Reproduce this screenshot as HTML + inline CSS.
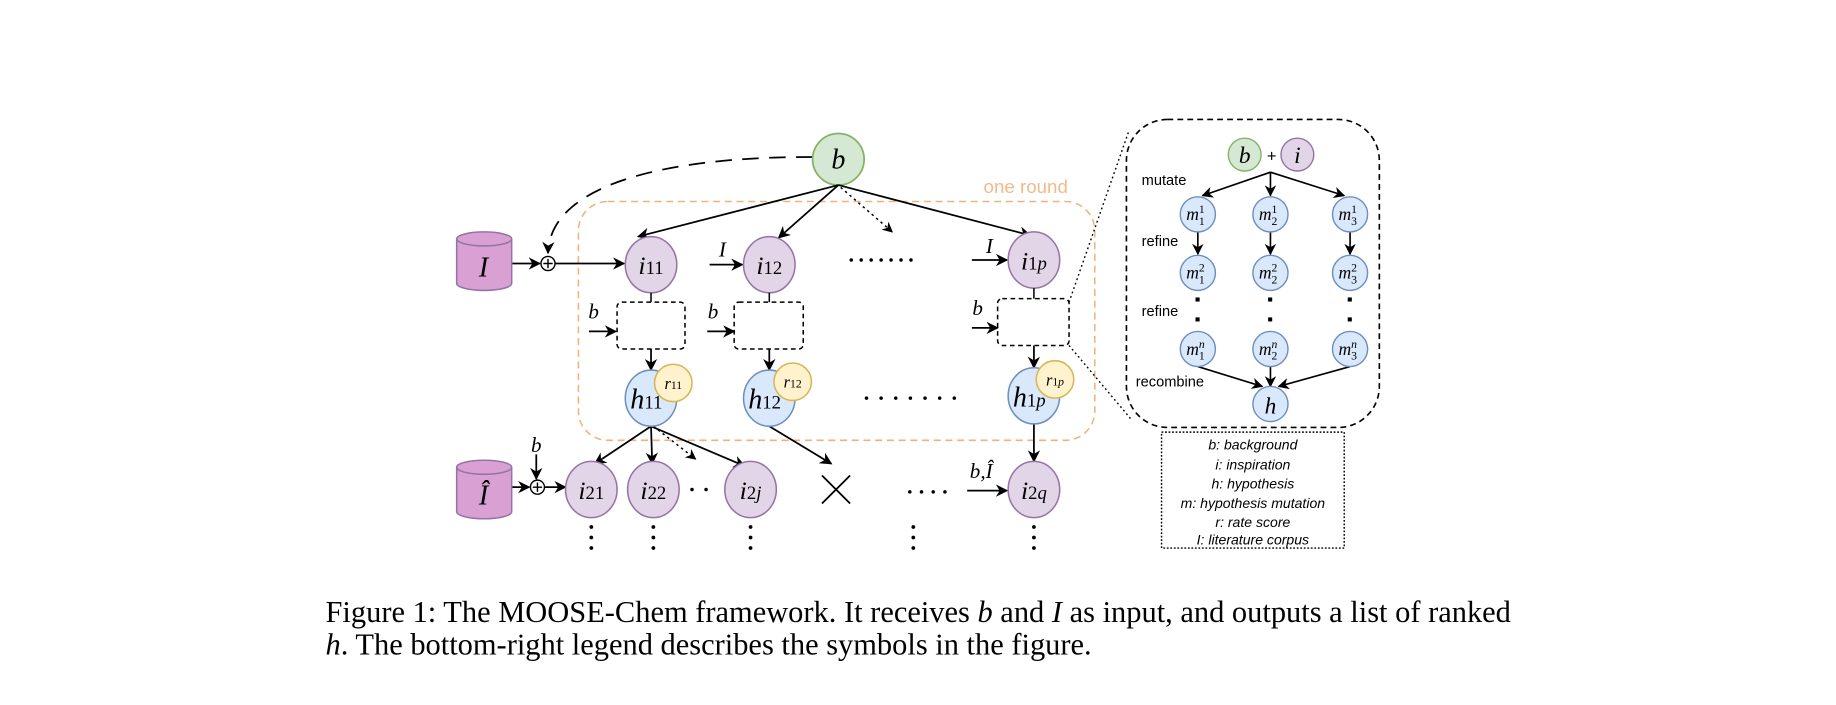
<!DOCTYPE html>
<html><head><meta charset="utf-8"><style>html,body{margin:0;padding:0;background:#fff}svg{display:block}</style></head>
<body>
<svg width="1836" height="705" viewBox="0 0 1568 602" xmlns="http://www.w3.org/2000/svg">
<defs>
<marker id="a" viewBox="0 0 10 10" refX="9" refY="5" markerWidth="7" markerHeight="7" orient="auto"><path d="M0,0 L10,5 L0,10 L3,5z" fill="#000"/></marker>
</defs>
<g font-family="Liberation Serif, serif" font-style="italic" text-anchor="middle">
<rect x="494" y="172" width="441" height="204" rx="25" fill="none" stroke="#f0b27a" stroke-width="1.3" stroke-dasharray="6,4"/>
<text x="876" y="165" font-family="Liberation Sans, sans-serif" font-style="normal" font-size="16" fill="#f2b98a">one round</text>
<path d="M694,134 C560,134 470,160 468,216" fill="none" stroke="#000" stroke-width="1.5" stroke-dasharray="14,9" marker-end="url(#a)"/>
<circle cx="716" cy="136" r="22" fill="#d5e8d4" stroke="#82b366" stroke-width="1.5"/>
<text x="716" y="144" font-size="24">b</text>
<g stroke="#000" stroke-width="1.5" fill="none" marker-end="url(#a)">
<line x1="716" y1="158" x2="545" y2="202"/>
<line x1="716" y1="158" x2="665" y2="203"/>
<line x1="716" y1="158" x2="880" y2="201"/>
<line x1="437" y1="225" x2="461" y2="225"/>
<line x1="474" y1="225" x2="533" y2="225"/>
<line x1="606" y1="226" x2="634" y2="226"/>
<line x1="830" y1="222" x2="860" y2="222"/>
<line x1="503" y1="283" x2="526" y2="283"/>
<line x1="604" y1="283" x2="627" y2="283"/>
<line x1="830" y1="280" x2="852" y2="280"/>
<line x1="556" y1="298" x2="556" y2="316"/>
<line x1="657" y1="298" x2="657" y2="316"/>
<line x1="883" y1="295" x2="883" y2="314"/>
<line x1="556" y1="364" x2="508" y2="396"/>
<line x1="556" y1="364" x2="557" y2="396"/>
<line x1="556" y1="364" x2="636" y2="398"/>
<line x1="657" y1="364" x2="710" y2="396"/>
<line x1="883" y1="362" x2="883" y2="394"/>
<line x1="437" y1="416" x2="452" y2="416"/>
<line x1="465" y1="416" x2="483" y2="416"/>
<line x1="458" y1="388" x2="458" y2="409"/>
<line x1="826" y1="419" x2="860" y2="419"/>
</g>
<g stroke="#000" stroke-width="1.3" fill="none" stroke-dasharray="2,3" marker-end="url(#a)">
<line x1="718" y1="160" x2="762" y2="198"/>
<line x1="558" y1="364" x2="594" y2="392"/>
</g>
<g fill="#d9a0d3" stroke="#9673a6" stroke-width="1.3">
<path d="M390,204 L390,242 A23.5,6 0 0 0 437,242 L437,204"/>
<ellipse cx="413.5" cy="204" rx="23.5" ry="6"/>
<path d="M390,399 L390,437 A23.5,6 0 0 0 437,437 L437,399"/>
<ellipse cx="413.5" cy="399" rx="23.5" ry="6"/>
</g>
<text x="413" y="236" font-size="24">I</text>
<text x="413" y="431" font-size="24">Î</text>
<g stroke="#000" stroke-width="1.2" fill="#fff">
<circle cx="468" cy="225" r="6"/><path d="M464,225h8M468,221v8"/>
<circle cx="459" cy="416" r="6"/><path d="M455,416h8M459,412v8"/>
</g>
<g fill="#e1d5e7" stroke="#9673a6" stroke-width="1.3">
<ellipse cx="556" cy="226" rx="22" ry="24"/>
<ellipse cx="657" cy="226" rx="22" ry="24"/>
<ellipse cx="883" cy="222" rx="22" ry="24"/>
<ellipse cx="505" cy="418" rx="22" ry="24"/>
<ellipse cx="558" cy="418" rx="22" ry="24"/>
<ellipse cx="641" cy="418" rx="22" ry="24"/>
<ellipse cx="883" cy="418" rx="22" ry="24"/>
</g>
<g font-size="22">
<text x="556" y="234">i<tspan font-style="normal" font-size="16">11</tspan></text>
<text x="657" y="234">i<tspan font-style="normal" font-size="16">12</tspan></text>
<text x="883" y="230">i<tspan font-style="normal" font-size="16">1</tspan><tspan font-size="16">p</tspan></text>
<text x="505" y="426">i<tspan font-style="normal" font-size="16">21</tspan></text>
<text x="558" y="426">i<tspan font-style="normal" font-size="16">22</tspan></text>
<text x="641" y="426">i<tspan font-style="normal" font-size="16">2</tspan><tspan font-size="16">j</tspan></text>
<text x="883" y="426">i<tspan font-style="normal" font-size="16">2</tspan><tspan font-size="16">q</tspan></text>
</g>
<g font-size="18">
<text x="617" y="219">I</text><text x="845" y="216">I</text>
<text x="507" y="272">b</text><text x="609" y="272">b</text><text x="835" y="269">b</text>
<text x="458" y="386">b</text>
<text x="838" y="408">b,Î</text>
</g>
<g fill="none" stroke="#000" stroke-width="1.3">
<line x1="556" y1="250" x2="556" y2="258"/><line x1="657" y1="250" x2="657" y2="258"/><line x1="883" y1="246" x2="883" y2="255"/>
<g stroke-dasharray="4,3">
<rect x="527" y="258" width="58" height="40" rx="4"/>
<rect x="627" y="258" width="59" height="40" rx="4"/>
<rect x="852" y="255" width="61" height="40" rx="4"/>
</g>
</g>
<g fill="#dae8fc" stroke="#6c8ebf" stroke-width="1.3">
<ellipse cx="556" cy="340" rx="22" ry="24"/>
<ellipse cx="657" cy="340" rx="22" ry="24"/>
<ellipse cx="883" cy="338" rx="22" ry="24"/>
</g>
<g font-size="24">
<text x="552" y="349">h<tspan font-style="normal" font-size="16">11</tspan></text>
<text x="653" y="349">h<tspan font-style="normal" font-size="16">12</tspan></text>
<text x="879" y="347">h<tspan font-style="normal" font-size="16">1</tspan><tspan font-size="16">p</tspan></text>
</g>
<g fill="#fff2cc" stroke="#d6b656" stroke-width="1.3">
<circle cx="575" cy="327" r="16"/><circle cx="677" cy="326" r="16"/><circle cx="901" cy="324" r="16"/>
</g>
<g font-size="14">
<text x="575" y="332">r<tspan font-style="normal" font-size="10">11</tspan></text>
<text x="677" y="331">r<tspan font-style="normal" font-size="10">12</tspan></text>
<text x="901" y="329">r<tspan font-style="normal" font-size="10">1</tspan><tspan font-size="10">p</tspan></text>
</g>
<path d="M702,406 L726,430 M726,406 L702,430" stroke="#000" stroke-width="1.5"/>
<g fill="#000">
<g transform="translate(727,222)"><circle cx="0" r="1.5"/><circle cx="8.5" r="1.5"/><circle cx="17" r="1.5"/><circle cx="25.5" r="1.5"/><circle cx="34" r="1.5"/><circle cx="42.5" r="1.5"/><circle cx="51" r="1.5"/></g>
<g transform="translate(740,340)"><circle cx="0" r="1.5"/><circle cx="12.5" r="1.5"/><circle cx="25" r="1.5"/><circle cx="37.5" r="1.5"/><circle cx="50" r="1.5"/><circle cx="62.5" r="1.5"/><circle cx="75" r="1.5"/></g>
<g transform="translate(777,420)"><circle cx="0" r="1.5"/><circle cx="10" r="1.5"/><circle cx="20" r="1.5"/><circle cx="30" r="1.5"/></g>
<circle cx="591" cy="418" r="1.5"/><circle cx="603" cy="418" r="1.5"/>
<circle cx="505" cy="450" r="1.6"/><circle cx="505" cy="459" r="1.6"/><circle cx="505" cy="468" r="1.6"/>
<circle cx="558" cy="450" r="1.6"/><circle cx="558" cy="459" r="1.6"/><circle cx="558" cy="468" r="1.6"/>
<circle cx="641" cy="450" r="1.6"/><circle cx="641" cy="459" r="1.6"/><circle cx="641" cy="468" r="1.6"/>
<circle cx="780" cy="450" r="1.6"/><circle cx="780" cy="459" r="1.6"/><circle cx="780" cy="468" r="1.6"/>
<circle cx="883" cy="450" r="1.6"/><circle cx="883" cy="459" r="1.6"/><circle cx="883" cy="468" r="1.6"/>
</g>
<g fill="none" stroke="#000" stroke-width="1.2">
<path d="M913,258 L964,112 M913,295 L966,358" stroke-dasharray="1.5,2.5"/>
<rect x="962" y="102" width="216" height="263" rx="35" stroke-dasharray="5,3.5" stroke-width="1.4"/>
<rect x="992" y="369" width="156" height="99" stroke-dasharray="1.5,1.5"/>
</g>
<circle cx="1063" cy="132" r="14" fill="#d5e8d4" stroke="#82b366" stroke-width="1.2"/>
<circle cx="1108" cy="132" r="14" fill="#e1d5e7" stroke="#9673a6" stroke-width="1.2"/>
<text x="1063" y="139" font-size="20">b</text><text x="1108" y="139" font-size="20">i</text>
<text x="1086" y="138" font-size="14" font-style="normal" font-family="Liberation Sans, sans-serif">+</text>
<g stroke="#000" stroke-width="1.4" fill="none" marker-end="url(#a)">
<line x1="1085" y1="147" x2="1027" y2="167"/><line x1="1085" y1="147" x2="1085" y2="167"/><line x1="1085" y1="147" x2="1148" y2="167"/>
<line x1="1023" y1="198" x2="1023" y2="217"/><line x1="1085" y1="198" x2="1085" y2="217"/><line x1="1153" y1="198" x2="1153" y2="217"/>
<line x1="1023" y1="313" x2="1078" y2="330"/><line x1="1085" y1="313" x2="1085" y2="330"/><line x1="1153" y1="313" x2="1092" y2="330"/>
</g>
<g fill="#dae8fc" stroke="#6c8ebf" stroke-width="1.2">
<circle cx="1023" cy="183" r="15"/><circle cx="1085" cy="183" r="15"/><circle cx="1153" cy="183" r="15"/>
<circle cx="1023" cy="233" r="15"/><circle cx="1085" cy="233" r="15"/><circle cx="1153" cy="233" r="15"/>
<circle cx="1023" cy="298" r="15"/><circle cx="1085" cy="298" r="15"/><circle cx="1153" cy="298" r="15"/>
<circle cx="1085" cy="345" r="15"/>
</g>
<g font-size="15">
<text x="1021" y="188">m<tspan font-style="normal" font-size="10" dy="4">1</tspan><tspan font-style="normal" font-size="10" dx="-5" dy="-10">1</tspan></text>
<text x="1083" y="188">m<tspan font-style="normal" font-size="10" dy="4">2</tspan><tspan font-style="normal" font-size="10" dx="-5" dy="-10">1</tspan></text>
<text x="1151" y="188">m<tspan font-style="normal" font-size="10" dy="4">3</tspan><tspan font-style="normal" font-size="10" dx="-5" dy="-10">1</tspan></text>
<text x="1021" y="238">m<tspan font-style="normal" font-size="10" dy="4">1</tspan><tspan font-style="normal" font-size="10" dx="-5" dy="-10">2</tspan></text>
<text x="1083" y="238">m<tspan font-style="normal" font-size="10" dy="4">2</tspan><tspan font-style="normal" font-size="10" dx="-5" dy="-10">2</tspan></text>
<text x="1151" y="238">m<tspan font-style="normal" font-size="10" dy="4">3</tspan><tspan font-style="normal" font-size="10" dx="-5" dy="-10">2</tspan></text>
<text x="1021" y="303">m<tspan font-style="normal" font-size="10" dy="4">1</tspan><tspan font-size="10" dx="-5" dy="-10">n</tspan></text>
<text x="1083" y="303">m<tspan font-style="normal" font-size="10" dy="4">2</tspan><tspan font-size="10" dx="-5" dy="-10">n</tspan></text>
<text x="1151" y="303">m<tspan font-style="normal" font-size="10" dy="4">3</tspan><tspan font-size="10" dx="-5" dy="-10">n</tspan></text>
</g>
<text x="1085" y="353" font-size="20">h</text>
<g fill="#000">
<rect x="1021" y="254" width="3.5" height="3.5"/><rect x="1021" y="271" width="3.5" height="3.5"/>
<rect x="1083" y="254" width="3.5" height="3.5"/><rect x="1083" y="271" width="3.5" height="3.5"/>
<rect x="1151" y="254" width="3.5" height="3.5"/><rect x="1151" y="271" width="3.5" height="3.5"/>
</g>
<g font-family="Liberation Sans, sans-serif" font-style="normal" font-size="12.5" text-anchor="start">
<text x="975" y="158">mutate</text><text x="975" y="210">refine</text><text x="975" y="270">refine</text><text x="970" y="330">recombine</text>
</g>
<g font-family="Liberation Sans, sans-serif" font-size="12" text-anchor="middle">
<text x="1070" y="384">b: background</text>
<text x="1070" y="401">i: inspiration</text>
<text x="1070" y="417">h: hypothesis</text>
<text x="1070" y="434">m: hypothesis mutation</text>
<text x="1070" y="450">r: rate score</text>
<text x="1070" y="465">I: literature corpus</text>
</g>
</g>
<g font-family="Liberation Serif, serif" font-size="26" fill="#000">
<text x="278" y="531">Figure 1: The MOOSE-Chem framework. It receives <tspan font-style="italic">b</tspan> and <tspan font-style="italic">I</tspan> as input, and outputs a list of ranked</text>
<text x="278" y="559"><tspan font-style="italic">h</tspan>. The bottom-right legend describes the symbols in the figure.</text>
</g>
</svg>
</body></html>
